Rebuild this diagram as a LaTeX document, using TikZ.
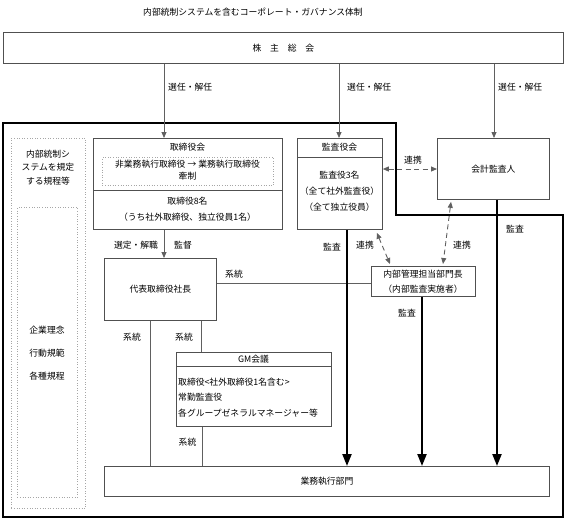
\documentclass[tikz,border=0pt]{standalone}
\usepackage{fontspec}
\newfontfamily\jp{Noto Sans CJK JP}
\usetikzlibrary{arrows.meta}
\definecolor{boxc}{HTML}{505050}
\definecolor{linec}{HTML}{606060}
\begin{document}
\begin{tikzpicture}[x=1pt,y=-1pt,
  font=\jp\fontsize{8.8}{10}\selectfont,
  box/.style={draw=boxc, line width=0.8pt, inner sep=0pt, anchor=north west},
  dotbox/.style={draw=gray!70, dotted, line width=0.6pt, inner sep=0pt, anchor=north west},
  divider/.style={draw=boxc, line width=0.8pt},
  conn/.style={draw=linec, line width=0.8pt},
  tip/.style={-{Triangle[length=6pt,width=5pt]}},
  dconn/.style={draw=linec, line width=0.9pt, dash pattern=on 5pt off 3.5pt,
                {Triangle[length=6pt,width=5pt]}-{Triangle[length=6pt,width=5pt]}},
  audit/.style={draw=black, line width=2.2pt, -{Triangle[length=12pt,width=9pt]}},
  frame/.style={draw=black, line width=1.4pt},
  txt/.style={inner sep=0pt}
]
\useasboundingbox (0,0) rectangle (565,520);

% title
\node[txt] (title) at (253,12) {内部統制システムを含むコーポレート・ガバナンス体制};

% shareholders meeting
\node[box, minimum width=560pt, minimum height=31pt] (kabu) at (3,32) {株　主　総　会};

% outer frame
\draw[frame] (3,123) -- (396,123) -- (396,215) -- (563,215) -- (563,517) -- (3,517) -- cycle;

% left panel
\node[dotbox, minimum width=74pt, minimum height=370pt] (lp) at (11,138) {};
\node[dotbox, minimum width=60pt, minimum height=290pt] (lpi) at (17,207) {};
\node[txt] (lp1) at (48,154) {内部統制シ};
\node[txt] (lp2) at (48,167.5) {ステムを規定};
\node[txt] (lp3) at (48,181) {する規程等};
\node[txt] (lp4) at (47,330) {企業理念};
\node[txt] (lp5) at (47,353) {行動規範};
\node[txt] (lp6) at (47,376) {各種規程};

% board of directors
\node[box, minimum width=189pt, minimum height=91pt] (tb) at (93,138) {};
\draw[divider] (tb.west |- 0,190) -- (tb.east |- 0,190);
\node[txt] (tb1) at (187.5,147) {取締役会};
\node[dotbox, minimum width=171pt, minimum height=28pt] (tbd) at (102,157) {};
\node[txt] (tb2) at (187.5,164) {非業務執行取締役 → 業務執行取締役};
\node[txt] (tb3) at (187.5,176) {牽制};
\node[txt] (tb4) at (187.5,201) {取締役8名};
\node[txt] (tb5) at (187.5,217) {（うち社外取締役、独立役員1名）};

% audit & supervisory board
\node[box, minimum width=85pt, minimum height=91pt] (ka) at (297,138) {};
\draw[divider] (ka.west |- 0,157) -- (ka.east |- 0,157);
\node[txt] (ka1) at (339.5,147.5) {監査役会};
\node[txt] (ka2) at (339.5,175) {監査役3名};
\node[txt] (ka3) at (339.5,191) {（全て社外監査役）};
\node[txt] (ka4) at (339.5,207) {（全て独立役員）};

% accounting auditor
\node[box, minimum width=112pt, minimum height=61pt] (kk) at (437,138) {会計監査人};

% president
\node[box, minimum width=112pt, minimum height=62pt] (dh) at (104,258) {代表取締役社長};

% internal management head
\node[box, minimum width=104pt, minimum height=30pt] (nb) at (371,266) {};
\node[txt] (nb1) at (423,274) {内部管理担当部門長};
\node[txt] (nb2) at (423,289) {（内部監査実施者）};

% GM meeting
\node[box, minimum width=155pt, minimum height=74pt] (gm) at (176,352) {};
\draw[divider] (gm.west |- 0,366) -- (gm.east |- 0,366);
\node[txt] (gm1) at (253.5,359) {GM会議};
\node[txt, anchor=west] (gm2) at (178,382) {取締役<社外取締役1名含む>};
\node[txt, anchor=west] (gm3) at (178,397.5) {常勤監査役};
\node[txt, anchor=west] (gm4) at (178,413) {各グループゼネラルマネージャー等};

% business execution dept
\node[box, minimum width=445pt, minimum height=30pt] (gy) at (104,466) {業務執行部門};

% election arrows
\draw[conn,tip] (kabu.south -| 164,0) -- (tb.north -| 164,0);
\draw[conn,tip] (kabu.south -| 339,0) -- (ka.north -| 339,0);
\draw[conn,tip] (kabu.south -| 494,0) -- (kk.north -| 494,0);
\node[txt, anchor=west] (e1) at (168,87) {選任・解任};
\node[txt, anchor=west] (e2) at (347,87) {選任・解任};
\node[txt, anchor=west] (e3) at (498,87) {選任・解任};

% board -> president
\draw[conn,tip] (tb.south -| 164,0) -- (dh.north -| 164,0);
\node[txt] (s1) at (136,245) {選定・解職};
\node[txt] (s2) at (183,245) {監督};

% reporting lines
\draw[conn] (dh.east |- 0,283) -- (nb.west |- 0,283);
\node[txt] (k1) at (234,274) {系統};
\draw[conn] (dh.south -| 150,0) -- (gy.north -| 150,0);
\node[txt] (k2) at (132,337) {系統};
\draw[conn] (dh.south -| 201,0) -- (gm.north -| 201,0);
\node[txt] (k3) at (184,337) {系統};
\draw[conn] (gm.south -| 202,0) -- (gy.north -| 202,0);
\node[txt] (k4) at (187.5,442) {系統};

% cooperation (dashed)
\draw[dconn] (ka.east |- 0,169) -- (kk.west |- 0,169);
\node[txt] (r1) at (413,160) {連携};
\draw[dconn] ([shift={(-6,3)}]ka.south east) -- ([shift={(19,-2)}]nb.north west);
\node[txt] (r2) at (365,245) {連携};
\draw[dconn] ([shift={(14,2)}]kk.south west) -- ([shift={(72,-2)}]nb.north west);
\node[txt] (r3) at (462,245) {連携};

% audit arrows
\draw[audit] (ka.south -| 347,0) -- (gy.north -| 347,0);
\node[txt] (a1) at (332,247) {監査};
\draw[audit] (nb.south -| 422,0) -- (gy.north -| 422,0);
\node[txt] (a2) at (407,313) {監査};
\draw[audit] (kk.south -| 497,0) -- (gy.north -| 497,0);
\node[txt] (a3) at (515,229) {監査};
\end{tikzpicture}
\end{document}
